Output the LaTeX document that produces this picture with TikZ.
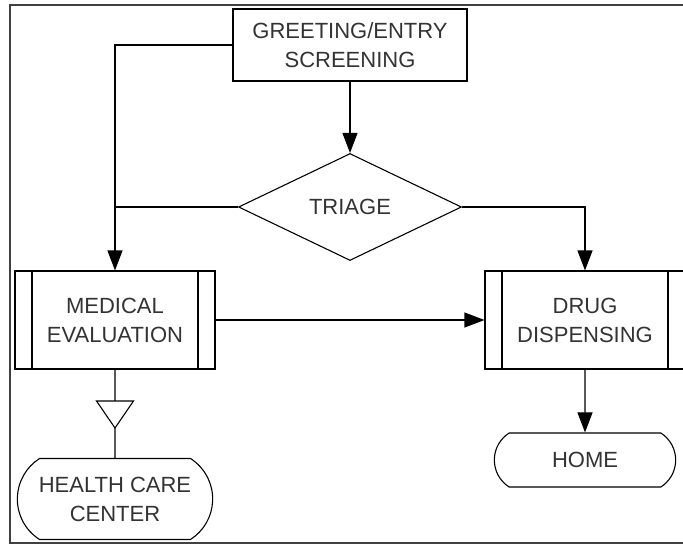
\documentclass[tikz,border=0pt]{standalone}
\usepackage{fontspec}
\setmainfont{Liberation Sans}
\usetikzlibrary{positioning,arrows.meta,shapes.geometric,shapes.misc}

\begin{document}
\begin{tikzpicture}[x=1pt, y=-1pt, line width=1.1pt, >={Triangle[length=20pt,width=15pt]},
    every node/.style = {font=\fontsize{22}{29}\selectfont, text=black!80, align=center},
    main/.style = {rectangle, draw, minimum width=234pt, minimum height=72pt},
    dec/.style = {diamond, draw, aspect=2, minimum width=223pt, minimum height=107pt, inner sep=0pt},
    proc/.style = {rectangle, draw, minimum width=200pt, minimum height=98pt,
        path picture={
            \draw ([xshift=17pt]path picture bounding box.north west) -- ([xshift=17pt]path picture bounding box.south west);
            \draw ([xshift=-17pt]path picture bounding box.north east) -- ([xshift=-17pt]path picture bounding box.south east);}},
    term/.style = {rounded rectangle, rounded rectangle arc length=115, draw, fill=white}]
    \useasboundingbox (0,0) rectangle (683,544);
    \draw[line width=2pt, black!75] (683,5) -- (10,5) -- (10,543) -- (683,543);

    \node[main] (1) at (350,45) {GREETING/ENTRY\\SCREENING};
    \node[dec] (2) at (350,207) {TRIAGE};
    \node[proc] (3) at (115,320) {MEDICAL\\EVALUATION};
    \node[proc] (4) at (585,320) {DRUG\\DISPENSING};
    \node[term, minimum width=202pt, minimum height=81pt] (5) at (115,499) {HEALTH CARE\\CENTER};
    \node[term, minimum width=188pt, minimum height=54pt] (6) at (585,460) {HOME};

    \draw[->] (1) -- (2);
    \draw[->] (1.west) -| (3.north);
    \draw (2.west) -- (2.west -| 3.north);
    \draw[->] (2.east) -| (4.north);
    \draw[->] (3) -- (4);
    \draw[->] (4) -- (6);

    % open triangle on the way to the health care center
    \draw (3) -- (5);
    \coordinate (t) at (115,401);
    \draw[fill=white] (t) ++(-18.5,0) -- ++(37,0) -- ++(-18.5,27) -- cycle;

\end{tikzpicture}
\end{document}
